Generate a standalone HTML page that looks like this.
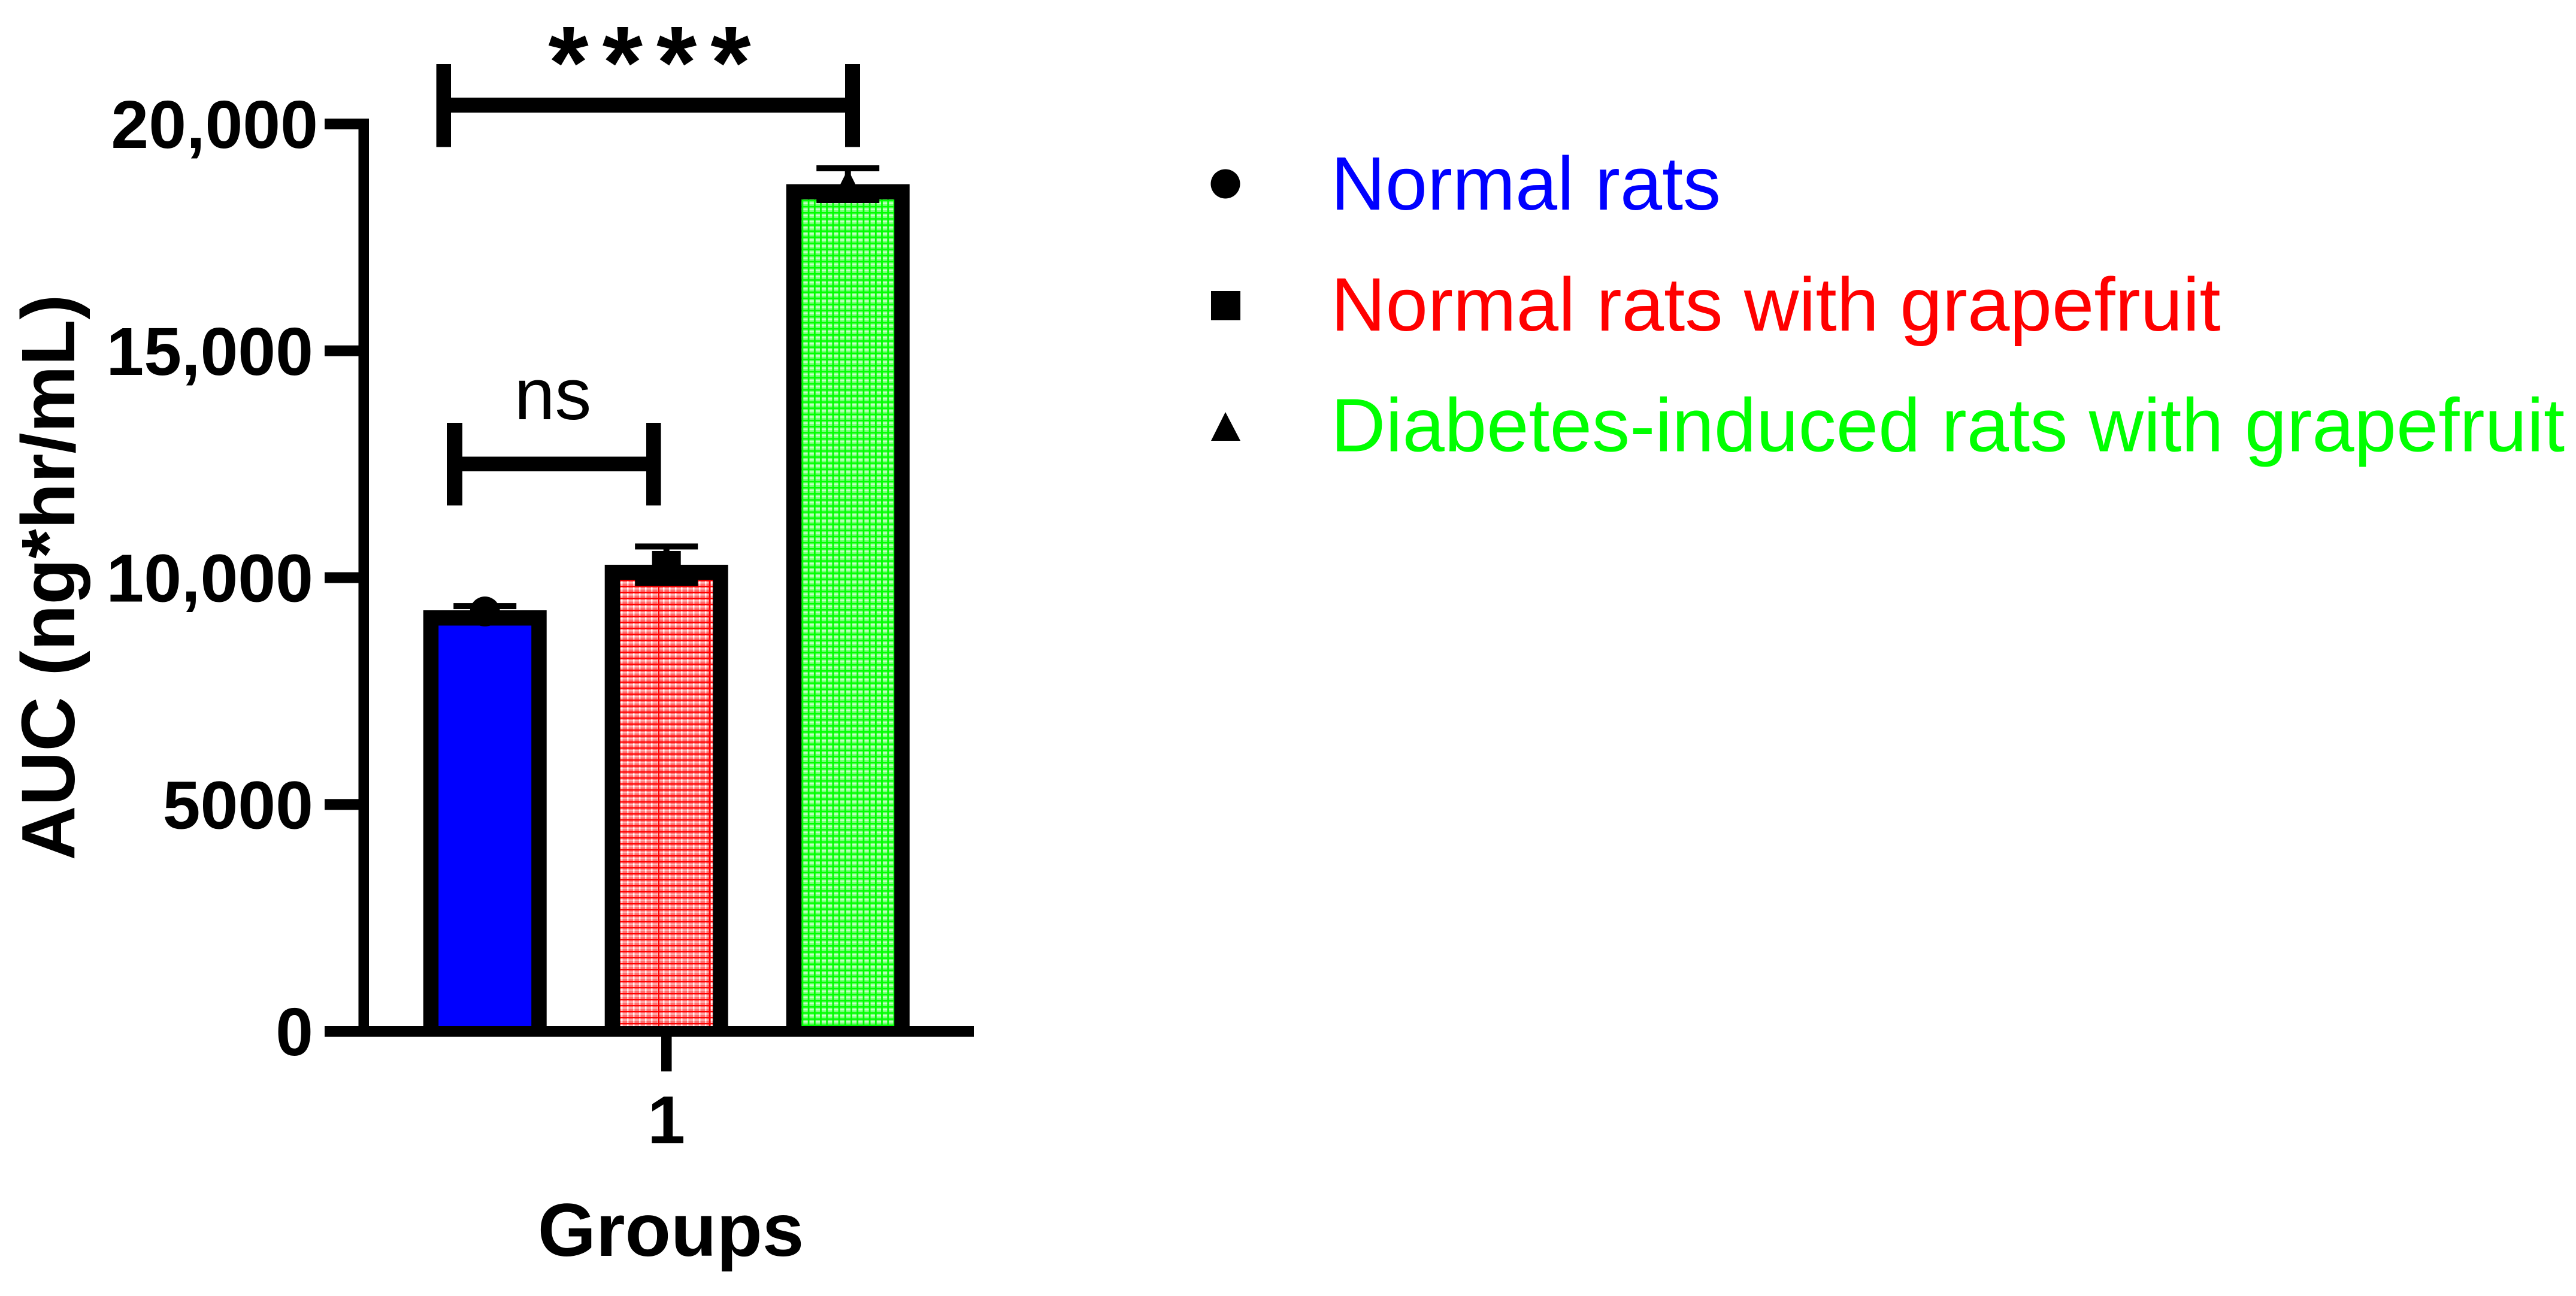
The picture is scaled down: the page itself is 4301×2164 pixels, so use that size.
<!DOCTYPE html>
<html>
<head>
<meta charset="utf-8">
<title>AUC by group</title>
<style>
html,body{margin:0;padding:0;background:#fff}
svg{display:block}
text{font-family:"Liberation Sans",Arial,sans-serif;fill:#000}
</style>
</head>
<body>
<svg id="chart" xmlns="http://www.w3.org/2000/svg" width="4301" height="2164" viewBox="0 0 4301 2164">
  <defs>
    <pattern id="red-grid" patternUnits="userSpaceOnUse" x="1044" y="1208" width="10" height="10">
      <rect width="10" height="10" fill="#ff7070"/>
      <rect x="0" y="4" width="10" height="2.5" fill="#ffb4b4"/>
      <rect x="3" y="0" width="2.5" height="10" fill="#ffc8c8"/>
      <rect x="3" y="4" width="2.5" height="2.5" fill="#ffffff"/>
      <rect x="0" y="0" width="10" height="2.2" fill="#ff0000"/>
    </pattern>
    <pattern id="green-grid" patternUnits="userSpaceOnUse" x="1338.5" y="1221" width="10.2" height="10.2">
      <rect width="10.2" height="10.2" fill="#78ff78"/>
      <rect x="0" y="4.5" width="10.2" height="2.6" fill="#c8ffc8"/>
      <rect x="0" y="0" width="10.2" height="2.6" fill="#00ff00"/>
      <rect x="0" y="0" width="2.8" height="10.2" fill="#00ff00"/>
    </pattern>
  </defs>
  <rect width="4301" height="2164" fill="#ffffff"/>
  <g id="bars"></g>
  <g id="axes"></g>

  <text transform="translate(124,964) rotate(-90)" text-anchor="middle" font-size="126" font-weight="700">AUC (ng*hr/mL)</text>
  <text x="1120" y="2097" text-anchor="middle" font-size="125" font-weight="700">Groups</text>

  <g>
    <rect x="728.5" y="107" width="24.5" height="138.5" fill="#000"/>
    <rect x="1411" y="107" width="25" height="138.5" fill="#000"/>
    <rect x="728.5" y="163" width="707.5" height="25" fill="#000"/>
    <text x="1096" y="164" text-anchor="middle" font-size="173" font-weight="700" letter-spacing="23">****</text>
  </g>
  <g>
    <rect x="746" y="706" width="26" height="138" fill="#000"/>
    <rect x="1079" y="706" width="24.5" height="138" fill="#000"/>
    <rect x="746" y="762.5" width="357.5" height="24.5" fill="#000"/>
    <text x="923" y="700" text-anchor="middle" font-size="122">ns</text>
  </g>

  <g>
    <g>
      <circle cx="2046" cy="307" r="24.5" fill="#000"/>
      <text x="2222" y="350" font-size="126" style="fill:#0000ff">Normal rats</text>
    </g>
    <g>
      <rect x="2022" y="486" width="49" height="48.5" fill="#000"/>
      <text x="2222" y="552" font-size="126.7" style="fill:#ff0000">Normal rats with grapefruit</text>
    </g>
    <g>
      <polygon points="2046,688 2071,736 2022,736" fill="#000"/>
      <text x="2222" y="753.5" font-size="126.5" style="fill:#00ff00">Diabetes-induced rats with grapefruit</text>
    </g>
  </g>
</svg>
<script>
const categories = ["Normal rats", "Normal rats with grapefruit", "Diabetes-induced rats with grapefruit"];
const seriesValues = [9280, 10284, 18673];
const seriesErrors = [92, 403, 350];
const yTickValues = [0, 5000, 10000, 15000, 20000];
const yTickLabels = ["0", "5000", "10,000", "15,000", "20,000"];
const xTickLabels = ["1"];

const NS = "http://www.w3.org/2000/svg";
const barsLayer = document.getElementById("bars");
const axesLayer = document.getElementById("axes");

function yScale(v) { return 1722 - v * 0.07575; }
function xBand(i) { return 809.7 + i * 303; }

function make(tag, parent, props) {
  const el = document.createElementNS(NS, tag);
  for (const k in props) el.setAttribute(k, props[k]);
  parent.appendChild(el);
  return el;
}

const fills = ["#0000ff", "url(#red-grid)", "url(#green-grid)"];
const BAR_W = 206, BORDER = 25.5, AXIS_TOP = 1713, CAP_W = 105, CAP_H = 10, STEM_W = 10, MARK = 25;

categories.forEach(function (name, i) {
  const cx = xBand(i);
  const top = yScale(seriesValues[i]);
  const hi = yScale(seriesValues[i] + seriesErrors[i]);
  const lo = yScale(seriesValues[i] - seriesErrors[i]);

  const outer = make("rect", barsLayer, { x: cx - BAR_W / 2, y: top, width: BAR_W, height: AXIS_TOP - top, fill: "#000" });
  
  

  const inner = make("rect", barsLayer, { x: cx - BAR_W / 2 + BORDER, y: top + BORDER, width: BAR_W - 2 * BORDER, height: AXIS_TOP - top - BORDER, fill: fills[i] });
  
  

  if (i === 1) {
    [1099.5, 1185].forEach(function (lx) {
      const ln = make("rect", barsLayer, { x: lx - 1.3, y: top + BORDER, width: 2.6, height: AXIS_TOP - top - BORDER, fill: "#ff0000" });
      
      
    });
  }

  const stem = make("rect", barsLayer, { x: cx - STEM_W / 2, y: hi, width: STEM_W, height: lo - hi, fill: "#000" });
  
  

  const capTop = make("rect", barsLayer, { x: cx - CAP_W / 2, y: hi - CAP_H / 2, width: CAP_W, height: CAP_H, fill: "#000" });
  
  

  const capLow = make("rect", barsLayer, { x: cx - CAP_W / 2, y: lo - CAP_H / 2, width: CAP_W, height: CAP_H, fill: "#000" });
  
  

  let marker;
  if (i === 0) {
    marker = make("circle", barsLayer, { cx: cx, cy: top + 2, r: MARK, fill: "#000" });
  } else if (i === 1) {
    marker = make("rect", barsLayer, { x: cx - 24, y: top - 23, width: 48, height: 48, fill: "#000" });
  } else {
    marker = make("polygon", barsLayer, { points: (cx) + "," + (top - 25) + " " + (cx + MARK) + "," + (top + 25) + " " + (cx - MARK) + "," + (top + 25), fill: "#000" });
  }
  
  
});

const yAxisLine = make("rect", axesLayer, { x: 598.5, y: yScale(20000) - 9, width: 17.5, height: yScale(0) - yScale(20000) + 18, fill: "#000" });



const xAxisLine = make("rect", axesLayer, { x: 542, y: yScale(0) - 9, width: 1084, height: 18, fill: "#000" });



yTickValues.forEach(function (v, i) {
  const y = yScale(v);
  const tick = make("rect", axesLayer, { x: 542, y: y - 9, width: 60, height: 18, fill: "#000" });
  
  

  const label = make("text", axesLayer, { x: v === 20000 ? 531 : 523, y: y + 40, "text-anchor": "end", "font-size": 113, "font-weight": 700 });
  
  
  label.textContent = yTickLabels[i];
});

xTickLabels.forEach(function (t) {
  const tx = xBand(1);
  const tick = make("rect", axesLayer, { x: tx - 8.7, y: yScale(0), width: 17.5, height: 67, fill: "#000" });
  
  

  const label = make("text", axesLayer, { x: tx, y: 1909, "text-anchor": "middle", "font-size": 113, "font-weight": 700 });
  
  
  label.textContent = t;
});
</script>
</body>
</html>
